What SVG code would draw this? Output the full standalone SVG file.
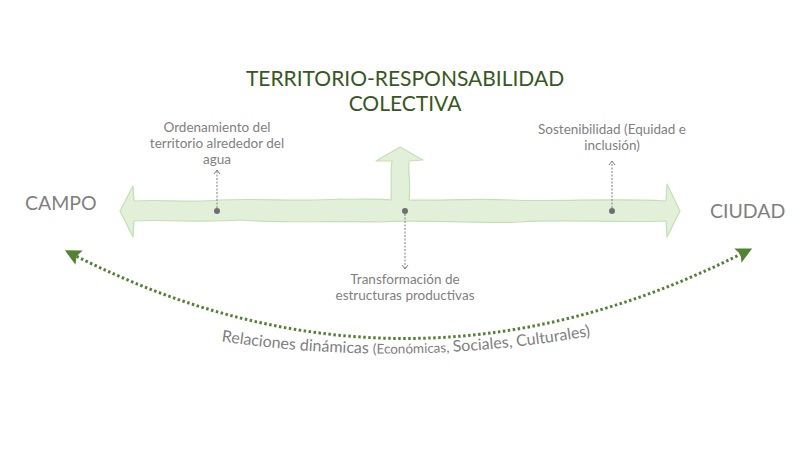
<svg xmlns="http://www.w3.org/2000/svg" xmlns:xlink="http://www.w3.org/1999/xlink" width="800" height="450" viewBox="0 0 800 450">
<style>
.lbl{font-family:Lato,"Noto Sans",sans-serif;fill:#7f7f7f;font-size:13.5px;text-anchor:middle}
.side{font-family:Lato,"Noto Sans",sans-serif;fill:#7f7f7f;font-size:19.5px}
.title{font-family:Lato,"Noto Sans",sans-serif;fill:#385723;font-size:21px;text-anchor:middle}
.dash{stroke:#7f7f7f;stroke-width:1;stroke-dasharray:2 1.5;fill:none}
.dot{fill:#6f6f6f}
</style>
<defs>
<marker id="open" markerWidth="8" markerHeight="8" refX="7" refY="4" orient="auto-start-reverse" markerUnits="userSpaceOnUse" viewBox="0 0 8 8">
<path d="M3,1 L7,4 L3,7" fill="none" stroke="#7f7f7f" stroke-width="1"/>
</marker>
<marker id="tri" markerWidth="18" markerHeight="18" refX="9" refY="9" orient="auto-start-reverse" markerUnits="userSpaceOnUse" viewBox="0 0 18 18">
<path d="M17,9 L1,1 L4,9 L1,17 Z" fill="#548235"/>
</marker>
<path id="arc" d="M200,338 Q405,372 612,332"/>
</defs>
<rect width="800" height="450" fill="#ffffff"/>
<g id="title">
<text class="title" x="405" y="86">TERRITORIO-RESPONSABILIDAD</text>
<text class="title" x="405" y="111">COLECTIVA</text>
</g>
<g id="main-arrow">
<path d="M120,211 L133,186 L134,201 C160,199 190,203 220,200 C260,198 300,202 340,199 C360,200 375,198 391,200 C392,185 390,172 392,161 L376,161 L400,147 L423,160 L409,161 C408,175 411,188 409,200 C440,201 470,198 510,200 C560,202 610,198 666,201 L667,184 L680,211 L667,237 L666,221 C620,223 560,219 520,222 C470,224 420,219 380,222 C330,221 280,223 240,220 C200,223 170,219 134,221 L133,237 Z" fill="#e2f0d9" stroke="#c5dfb4" stroke-width="1.2" stroke-linejoin="round"/>
</g>
<g id="campo"><text class="side" x="25" y="210">CAMPO</text></g>
<g id="ciudad"><text class="side" x="710" y="218">CIUDAD</text></g>
<g id="node-agua">
<text class="lbl" x="217" y="132">Ordenamiento del</text>
<text class="lbl" x="217" y="148">territorio alrededor del</text>
<text class="lbl" x="217" y="164">agua</text>
<circle class="dot" cx="217" cy="211" r="3"/>
</g>
<g id="node-sost">
<text class="lbl" x="612" y="134">Sostenibilidad (Equidad e</text>
<text class="lbl" x="612" y="150">inclusión)</text>
<circle class="dot" cx="612" cy="211" r="3"/>
</g>
<g id="node-transf">
<text class="lbl" x="405" y="284">Transformación de</text>
<text class="lbl" x="405" y="300">estructuras productivas</text>
<circle class="dot" cx="405" cy="211" r="3"/>
</g>
<g id="connectors">
<path class="dash" d="M217,208 L217,170" marker-end="url(#open)"/>
<path class="dash" d="M612,208 L612,161" marker-end="url(#open)"/>
<path class="dash" d="M405,214 L405,269" marker-end="url(#open)"/>
<path d="M72,254 Q405,424 745,252" fill="none" stroke="#548235" stroke-width="3" stroke-dasharray="2.5 2.5" marker-start="url(#tri)" marker-end="url(#tri)"/>
</g>
<g id="relaciones">
<text font-family="Lato,'Noto Sans',sans-serif" fill="#7f7f7f" text-anchor="middle"><textPath xlink:href="#arc" startOffset="50%"><tspan font-size="16">Relaciones dinámicas </tspan><tspan font-size="13.5">(Económicas, </tspan><tspan font-size="16">Sociales, Culturales)</tspan></textPath></text>
</g>
</svg>
